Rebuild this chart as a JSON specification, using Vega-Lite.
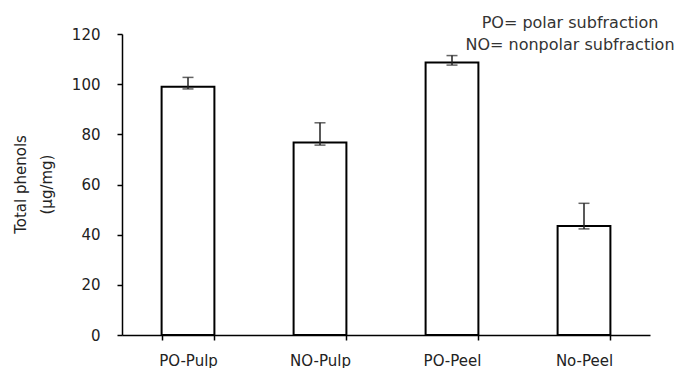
{
  "$schema": "https://vega.github.io/schema/vega-lite/v6.json",
  "width": 528,
  "height": 301,
  "autosize": "none",
  "padding": {"left": 122, "top": 34, "right": 36, "bottom": 33},
  "background": "white",
  "title": {
    "text": ["PO= polar subfraction", "NO= nonpolar subfraction"],
    "anchor": "end",
    "align": "center",
    "dx": -80,
    "baseline": "top",
    "offset": -26,
    "fontSize": 16,
    "lineHeight": 22,
    "font": "DejaVu Sans",
    "fontWeight": "normal",
    "color": "#333"
  },
  "data": {
    "values": [
      {"sample": "PO-Pulp", "value": 99.0, "low": 98.1, "high": 102.7},
      {"sample": "NO-Pulp", "value": 76.7, "low": 75.7, "high": 84.6},
      {"sample": "PO-Peel", "value": 108.6, "low": 107.6, "high": 111.4},
      {"sample": "No-Peel", "value": 43.5, "low": 42.3, "high": 52.5}
    ]
  },
  "encoding": {
    "x": {
      "field": "sample",
      "type": "nominal",
      "sort": null,
      "scale": {"paddingInner": 0.6, "paddingOuter": 0.3},
      "axis": {
        "title": null,
        "tickBand": "extent",
        "domainColor": "black",
        "domainWidth": 1.5,
        "tickColor": "black",
        "tickWidth": 1.5,
        "tickSize": 5,
        "labelPadding": 13,
        "labelAngle": 0,
        "labelFont": "DejaVu Sans",
        "labelFontSize": 15,
        "labelColor": "#222"
      }
    }
  },
  "layer": [
    {
      "mark": {"type": "bar", "fill": "white", "stroke": "black", "strokeWidth": 2},
      "encoding": {
        "y": {
          "field": "value",
          "type": "quantitative",
          "scale": {"domain": [0, 120]},
          "axis": {
            "values": [0, 20, 40, 60, 80, 100, 120],
            "grid": false,
            "domainColor": "black",
            "domainWidth": 1.5,
            "tickColor": "black",
            "tickWidth": 1.5,
            "tickSize": 5,
            "labelPadding": 17,
            "labelFont": "DejaVu Sans",
            "labelFontSize": 15,
            "labelColor": "#222",
            "title": ["Total phenols", "(µg/mg)"],
            "titleFont": "DejaVu Sans",
            "titleFontSize": 15,
            "titleFontWeight": "normal",
            "titleColor": "#222",
            "titleAngle": -90,
            "titleX": -102,
            "titleY": 150,
            "titleAlign": "center",
            "titleBaseline": "middle",
            "titleLineHeight": 26
          }
        }
      }
    },
    {
      "mark": {"type": "rule", "color": "#222", "strokeWidth": 1.5},
      "encoding": {
        "y": {"field": "low", "type": "quantitative"},
        "y2": {"field": "high"}
      }
    },
    {
      "mark": {"type": "tick", "color": "#222", "thickness": 1.5, "size": 11},
      "encoding": {"y": {"field": "low", "type": "quantitative"}}
    },
    {
      "mark": {"type": "tick", "color": "#222", "thickness": 1.5, "size": 11},
      "encoding": {"y": {"field": "high", "type": "quantitative"}}
    }
  ],
  "config": {"view": {"stroke": null}}
}
